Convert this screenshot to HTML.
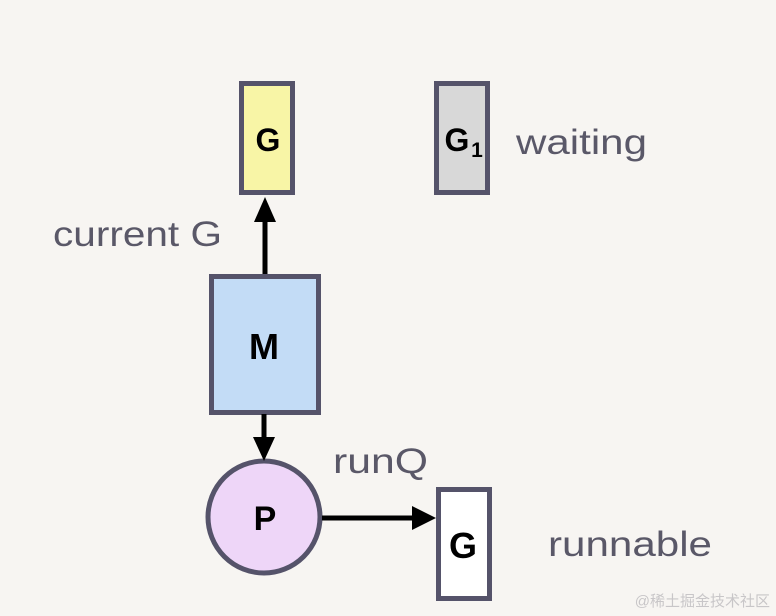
<!DOCTYPE html>
<html><head><meta charset="utf-8"><style>
html,body{margin:0;padding:0;background:#f7f5f2;}
svg{display:block}
</style></head><body>
<svg width="776" height="616" viewBox="0 0 776 616" xmlns="http://www.w3.org/2000/svg">
<rect width="776" height="616" fill="#f7f5f2"/>
<g stroke="#55536a" stroke-width="5">
<rect x="241.5" y="83.5" width="51" height="109" fill="#f8f5a6"/>
<rect x="436.5" y="83.5" width="51" height="109" fill="#d8d8d8"/>
<rect x="211.5" y="276.5" width="107" height="136" fill="#c3dcf6"/>
<circle cx="264" cy="517" r="56" fill="#eed6f8"/>
<rect x="438.5" y="489.5" width="51" height="109" fill="#ffffff"/>
</g>
<g stroke="#000" stroke-width="5">
<line x1="265" y1="274" x2="265" y2="218"/>
<line x1="264" y1="414" x2="264" y2="440"/>
<line x1="322" y1="518" x2="414" y2="518"/>
</g>
<g fill="#000">
<polygon points="265,197 254,222 276,222"/>
<polygon points="264,461 253,437 275,437"/>
<polygon points="436,518 412,506 412,530"/>
</g>
<g font-family="Liberation Sans, sans-serif" font-weight="bold" fill="#000" text-anchor="middle">
<text x="268" y="151" font-size="32">G</text>
<text x="457" y="151" font-size="32">G</text>
<text x="477" y="157" font-size="21">1</text>
<text x="264" y="359" font-size="36">M</text>
<text x="265" y="530" font-size="34">P</text>
<text x="463" y="558" font-size="36">G</text>
</g>
<g font-family="Liberation Sans, sans-serif" fill="#5a5868" font-size="35">
<text x="516" y="154" textLength="131" lengthAdjust="spacingAndGlyphs">waiting</text>
<text x="53" y="246" textLength="169" lengthAdjust="spacingAndGlyphs">current G</text>
<text x="333" y="473" textLength="95" lengthAdjust="spacingAndGlyphs">runQ</text>
<text x="548" y="556" textLength="164" lengthAdjust="spacingAndGlyphs">runnable</text>
</g>
<text x="770" y="606" text-anchor="end" font-family="Liberation Sans, Noto Sans CJK SC, sans-serif" font-size="15" fill="#c8c6c8">@稀土掘金技术社区</text>
</svg>
</body></html>
